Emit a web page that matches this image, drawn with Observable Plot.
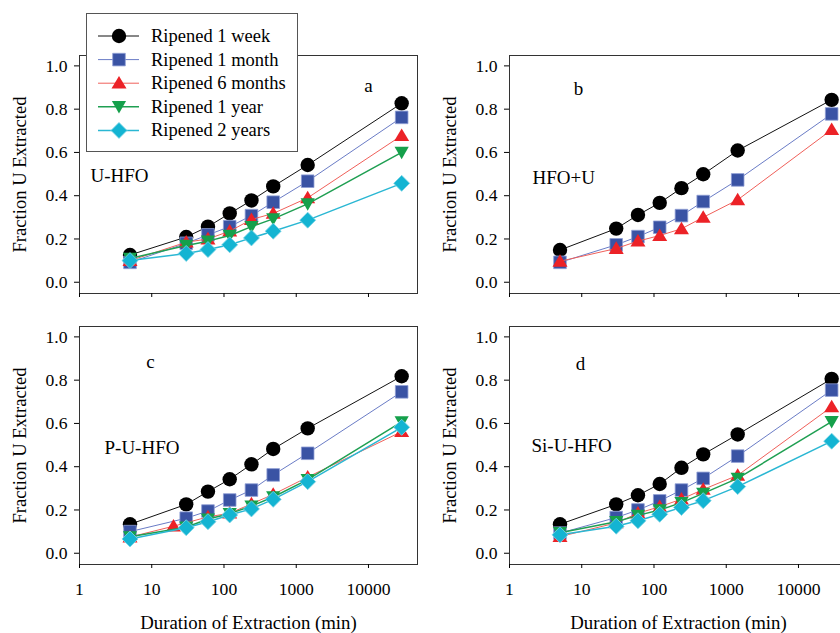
<!DOCTYPE html>
<html><head><meta charset="utf-8">
<script src="https://cdn.jsdelivr.net/npm/d3@7"></script>
<script src="https://cdn.jsdelivr.net/npm/@observablehq/plot@0.6"></script>
<style>
body{margin:0;background:#fff;}
#chart{position:relative;width:840px;height:633px;overflow:hidden;background:#fff;font-family:"Liberation Serif","Times New Roman",serif;}
#chart svg{position:absolute;}
#chart svg g[aria-label$="tick label"]{font-size:17.6px !important;font-family:"Liberation Serif","Times New Roman",serif !important;}
#legend{position:absolute;left:86px;top:13px;width:212px;height:139px;box-sizing:border-box;border:1px solid #555;background:#fff;}
#legend svg{position:absolute;left:0;top:0;}
</style></head><body><div id="chart"></div>
<script>
// ---------- data ----------
const minutes = [5, 30, 60, 120, 240, 480, 1440, 28800];
const minutesP6 = [5, 20, 60, 120, 240, 480, 1440, 28800];
const seriesNames = ["Ripened 1 week", "Ripened 1 month", "Ripened 6 months", "Ripened 1 year", "Ripened 2 years"];
const panelNames = ["U-HFO", "HFO+U", "P-U-HFO", "Si-U-HFO"];
const panelLetters = ["a", "b", "c", "d"];
const xTicks = [1, 10, 100, 1000, 10000];
const yTicks = [0, 0.2, 0.4, 0.6, 0.8, 1.0];
const xTitle = "Duration of Extraction (min)";
const yTitle = "Fraction U Extracted";

// a: U-HFO
const uhfoWeek   = [0.126, 0.209, 0.257, 0.318, 0.378, 0.443, 0.542, 0.827];
const uhfoMonth  = [0.092, 0.180, 0.219, 0.257, 0.308, 0.370, 0.467, 0.762];
const uhfoSix    = [0.100, 0.185, 0.200, 0.236, 0.290, 0.318, 0.390, 0.678];
const uhfoYear   = [0.110, 0.170, 0.190, 0.216, 0.257, 0.293, 0.362, 0.600];
const uhfoTwo    = [0.100, 0.133, 0.151, 0.173, 0.205, 0.236, 0.287, 0.457];
// b: HFO+U
const hfouWeek   = [0.149, 0.248, 0.311, 0.367, 0.435, 0.499, 0.609, 0.843];
const hfouMonth  = [0.092, 0.173, 0.211, 0.254, 0.308, 0.373, 0.473, 0.778];
const hfouSix    = [0.097, 0.156, 0.190, 0.216, 0.247, 0.300, 0.381, 0.705];
// c: P-U-HFO
const puhfoWeek  = [0.134, 0.226, 0.285, 0.342, 0.411, 0.482, 0.577, 0.818];
const puhfoMonth = [0.100, 0.162, 0.195, 0.246, 0.292, 0.362, 0.462, 0.746];
const puhfoSix   = [0.075, 0.125, 0.168, 0.185, 0.228, 0.272, 0.352, 0.562];
const puhfoYear  = [0.076, 0.120, 0.158, 0.183, 0.218, 0.260, 0.340, 0.607];
const puhfoTwo   = [0.066, 0.118, 0.146, 0.177, 0.205, 0.249, 0.331, 0.582];
// d: Si-U-HFO
const siuhfoWeek  = [0.134, 0.226, 0.268, 0.320, 0.395, 0.457, 0.549, 0.806];
const siuhfoMonth = [0.093, 0.165, 0.200, 0.242, 0.292, 0.346, 0.449, 0.754];
const siuhfoSix   = [0.077, 0.140, 0.185, 0.215, 0.250, 0.295, 0.360, 0.677];
const siuhfoYear  = [0.095, 0.146, 0.175, 0.200, 0.234, 0.277, 0.346, 0.608];
const siuhfoTwo   = [0.085, 0.125, 0.150, 0.180, 0.212, 0.243, 0.308, 0.518];

// ---------- symbols & styles ----------
const symCircle = {draw(c, s) { const r = Math.sqrt(s / Math.PI); c.moveTo(r, 0); c.arc(0, 0, r, 0, 2 * Math.PI); }};
const symSquare = {draw(c, s) { const r = Math.sqrt(s / Math.PI); c.rect(-r, -r, 2 * r, 2 * r); }};
const symUp = {draw(c, s) { const r = Math.sqrt(s / Math.PI); c.moveTo(0, -0.95 * r); c.lineTo(r, 0.72 * r); c.lineTo(-r, 0.72 * r); c.closePath(); }};
const symDown = {draw(c, s) { const r = Math.sqrt(s / Math.PI); c.moveTo(0, 0.95 * r); c.lineTo(r, -0.8 * r); c.lineTo(-r, -0.8 * r); c.closePath(); }};
const symDiamond = {draw(c, s) { const r = Math.sqrt(s / Math.PI); c.moveTo(0, -r); c.lineTo(r, 0); c.lineTo(0, r); c.lineTo(-r, 0); c.closePath(); }};

const styles = [
  {symbol: symCircle,  r: 7.2, fill: "#000000", stroke: "none",    line: "#111111", lw: 1.0},
  {symbol: symSquare,  r: 6.3, fill: "#3a53a4", stroke: "#8e9dd4", line: "#6a7cc6", lw: 1.0},
  {symbol: symUp,      r: 7.5, fill: "#ec2227", stroke: "none",    line: "#f0605a", lw: 1.0},
  {symbol: symDown,    r: 7.1, fill: "#15a04b", stroke: "none",    line: "#1f9f52", lw: 1.5},
  {symbol: symDiamond, r: 8.0, fill: "#14b4d2", stroke: "#7fd6e6", line: "#2ab7d3", lw: 1.5}
];

const panels = [
  {left: 0,   top: 0,   bottom: false, series: [[minutes, uhfoWeek], [minutes, uhfoMonth], [minutes, uhfoSix], [minutes, uhfoYear], [minutes, uhfoTwo]],
   letter: {dx: 289, dy: 36}, name: {dx: 11, dy: 126}},
  {left: 430, top: 0,   bottom: false, series: [[minutes, hfouWeek], [minutes, hfouMonth], [minutes, hfouSix]],
   letter: {dx: 69, dy: 39}, name: {dx: 23, dy: 128}},
  {left: 0,   top: 271, bottom: true,  series: [[minutes, puhfoWeek], [minutes, puhfoMonth], [minutesP6, puhfoSix], [minutes, puhfoYear], [minutes, puhfoTwo]],
   letter: {dx: 71, dy: 41}, name: {dx: 25, dy: 127}},
  {left: 430, top: 271, bottom: true,  series: [[minutes, siuhfoWeek], [minutes, siuhfoMonth], [minutes, siuhfoSix], [minutes, siuhfoYear], [minutes, siuhfoTwo]],
   letter: {dx: 71, dy: 43}, name: {dx: 22, dy: 125}}
];

const chart = document.getElementById("chart");
const FONT = '"Liberation Serif", "Times New Roman", serif';

panels.forEach((p, pi) => {
  const marks = [];
  p.series.forEach(([xs, ys], si) => {
    const st = styles[si];
    const rows = xs.map((t, i) => ({t, v: ys[i]}));
    marks.push(Plot.line(rows, {x: "t", y: "v", stroke: st.line, strokeWidth: st.lw}));
    marks.push(Plot.dot(rows, {x: "t", y: "v", r: st.r, symbol: st.symbol, fill: st.fill, stroke: st.stroke, strokeWidth: 0.8}));
  });
  marks.push(Plot.frame({stroke: "#333", strokeWidth: 1}));
  marks.push(Plot.axisY({ticks: yTicks, tickFormat: d3.format(".1f"), tickSize: 5, tickPadding: 7, label: null, fontSize: 17.6}));
  marks.push(Plot.axisX({ticks: xTicks, tickSize: 4, tickPadding: 14, label: null, fontSize: 17.6,
    tickFormat: p.bottom ? (d => String(d)) : (() => "")}));
  marks.push(Plot.text([yTitle], {text: d => d, frameAnchor: "left", dx: -59.5, rotate: -90, textAnchor: "middle", lineAnchor: "middle", fontSize: 18.6}));
  if (p.bottom) marks.push(Plot.text([xTitle], {text: d => d, frameAnchor: "bottom", dy: 64, lineAnchor: "bottom", fontSize: 18.8}));
  marks.push(Plot.text([panelLetters[pi]], {text: d => d, frameAnchor: "top-left", dx: p.letter.dx, dy: p.letter.dy, textAnchor: "middle", lineAnchor: "bottom", fontSize: 19}));
  marks.push(Plot.text([panelNames[pi]], {text: d => d, frameAnchor: "top-left", dx: p.name.dx, dy: p.name.dy, textAnchor: "start", lineAnchor: "bottom", fontSize: 19}));

  const h = p.bottom ? 362 : 310;
  const svg = Plot.plot({
    width: 420, height: h,
    marginLeft: 79, marginRight: 3, marginTop: 55, marginBottom: h - 293,
    style: {fontFamily: FONT, fontSize: "17.6px", background: "transparent", overflow: "visible", color: "#000", maxWidth: "none"},
    x: {type: "log", domain: [1, 47700]},
    y: {domain: [-0.052, 1.048]},
    marks
  });
  svg.style.left = p.left + "px";
  svg.style.top = p.top + "px";
  chart.appendChild(svg);
});

// ---------- legend ----------
const legend = document.createElement("div");
legend.id = "legend";
chart.appendChild(legend);
const lsvg = d3.select(legend).append("svg").attr("width", 212).attr("height", 139);
seriesNames.forEach((name, i) => {
  const st = styles[i];
  const cy = 22 + i * 23.6;
  lsvg.append("line").attr("x1", 11).attr("x2", 52).attr("y1", cy).attr("y2", cy)
    .attr("stroke", st.line).attr("stroke-width", st.lw);
  lsvg.append("path").attr("transform", `translate(32,${cy})`)
    .attr("d", d3.symbol(st.symbol, Math.PI * st.r * st.r)())
    .attr("fill", st.fill).attr("stroke", st.stroke).attr("stroke-width", 0.8);
  lsvg.append("text").attr("x", 64).attr("y", cy + 6).attr("font-family", FONT).attr("font-size", 18.5)
    .attr("fill", "#000").text(name);
});
</script></body></html>
